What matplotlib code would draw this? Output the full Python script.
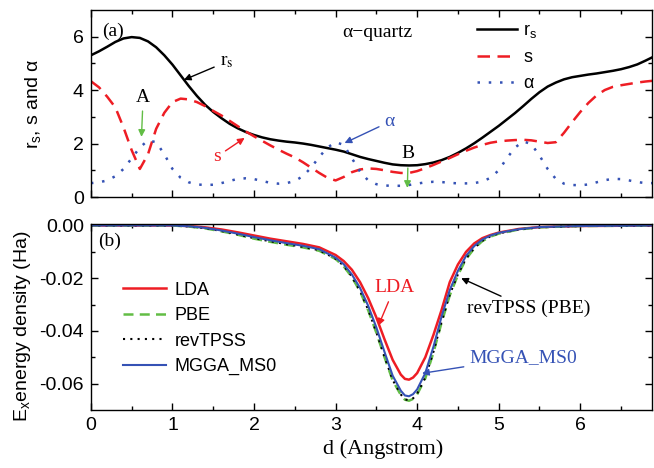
import numpy as np
import matplotlib
matplotlib.use('Agg')
import matplotlib.pyplot as plt

plt.rcParams['font.family'] = ['Liberation Sans', 'DejaVu Sans']
plt.rcParams['mathtext.fontset'] = 'custom'
plt.rcParams['mathtext.rm'] = 'Liberation Sans'
plt.rcParams['mathtext.it'] = 'Liberation Sans'

# ---- panel (a): rs, s and alpha along the path ----
d_top = [0.0, 0.1, 0.2, 0.3, 0.4, 0.5, 0.6, 0.7, 0.8, 0.9,
         1.0, 1.1, 1.2, 1.3, 1.4, 1.5, 1.6, 1.7, 1.8, 1.9,
         2.0, 2.1, 2.2, 2.3, 2.4, 2.5, 2.6, 2.7, 2.8, 2.9,
         3.0, 3.1, 3.2, 3.3, 3.4, 3.5, 3.6, 3.7, 3.8, 3.9,
         4.0, 4.1, 4.2, 4.3, 4.4, 4.5, 4.6, 4.7, 4.8, 4.9,
         5.0, 5.1, 5.2, 5.3, 5.4, 5.5, 5.6, 5.7, 5.8, 5.9,
         6.0, 6.1, 6.2, 6.3, 6.4, 6.5, 6.6, 6.7, 6.8, 6.9]
rs_vals = [5.30, 5.45, 5.62, 5.80, 5.93, 5.98, 5.95, 5.82, 5.60, 5.30,
           4.95, 4.55, 4.15, 3.78, 3.45, 3.18, 2.95, 2.74, 2.57, 2.43,
           2.32, 2.23, 2.16, 2.11, 2.07, 2.04, 2.00, 1.95, 1.89, 1.83,
           1.77, 1.70, 1.60, 1.50, 1.42, 1.35, 1.28, 1.22, 1.19, 1.18,
           1.19, 1.23, 1.29, 1.38, 1.50, 1.65, 1.82, 2.01, 2.22, 2.44,
           2.66, 2.90, 3.14, 3.40, 3.67, 3.92, 4.13, 4.28, 4.40, 4.48,
           4.53, 4.58, 4.62, 4.67, 4.72, 4.78, 4.86, 4.96, 5.10, 5.25]
s_vals = [4.33, 4.10, 3.75, 3.35, 2.60, 1.75, 1.05, 1.60, 2.55, 3.15,
          3.55, 3.68, 3.65, 3.55, 3.40, 3.22, 3.05, 2.85, 2.65, 2.45,
          2.27, 2.10, 1.93, 1.77, 1.62, 1.48, 1.30, 1.10, 0.90, 0.72,
          0.62, 0.75, 0.93, 1.03, 1.07, 1.05, 1.00, 0.94, 0.90, 0.90,
          0.97, 1.08, 1.20, 1.33, 1.46, 1.60, 1.73, 1.85, 1.95, 2.03,
          2.08, 2.11, 2.13, 2.14, 2.12, 2.07, 2.02, 2.05, 2.40, 2.80,
          3.18, 3.52, 3.80, 4.00, 4.12, 4.18, 4.23, 4.28, 4.32, 4.35]
alpha_vals = [0.52, 0.55, 0.62, 0.78, 1.05, 1.45, 1.85, 2.12, 2.05, 1.60,
              1.05, 0.72, 0.55, 0.47, 0.45, 0.46, 0.52, 0.60, 0.68, 0.70,
              0.67, 0.60, 0.53, 0.50, 0.52, 0.60, 0.78, 1.10, 1.50, 1.85,
              2.05, 1.95, 1.45, 0.95, 0.62, 0.48, 0.43, 0.42, 0.42, 0.45,
              0.50, 0.55, 0.57, 0.56, 0.53, 0.51, 0.51, 0.52, 0.58, 0.72,
              1.00, 1.45, 1.85, 2.08, 1.98, 1.55, 1.05, 0.68, 0.50, 0.45,
              0.44, 0.47, 0.55, 0.63, 0.68, 0.67, 0.62, 0.56, 0.52, 0.52]

# ---- panel (b): exchange energy density ----
d_bot = [0.0, 0.5, 1.0, 1.2, 1.4, 1.6, 1.8, 2.0, 2.2, 2.4, 2.6, 2.8,
         3.0, 3.1, 3.2, 3.3, 3.4, 3.5, 3.6, 3.7, 3.8, 3.85, 3.9, 3.95,
         4.0, 4.1, 4.2, 4.3, 4.4, 4.5, 4.6, 4.7, 4.8, 4.9, 5.0,
         5.25, 5.5, 6.0, 6.5, 6.9]
lda = [0.0, 0.0, 0.0, -0.0002, -0.0007, -0.0015, -0.0026, -0.0038, -0.0050, -0.0060, -0.0070, -0.0083,
       -0.0112, -0.0135, -0.0168, -0.0215, -0.0276, -0.0349, -0.0432, -0.0510, -0.0566, -0.0582, -0.0585, -0.0577,
       -0.0560, -0.0500, -0.0415, -0.0320, -0.0215, -0.0148, -0.0100, -0.0068, -0.0048, -0.0036, -0.0027,
       -0.0013, -0.0006, -0.0002, -0.0001, 0.0]
pbe = [0.0, 0.0, 0.0, -0.0004, -0.0011, -0.0022, -0.0035, -0.0050, -0.0062, -0.0073, -0.0083, -0.0096,
       -0.0127, -0.0155, -0.0196, -0.0250, -0.0322, -0.0407, -0.0500, -0.0588, -0.0643, -0.0661, -0.0665, -0.0658,
       -0.0641, -0.0580, -0.0482, -0.0368, -0.0265, -0.0188, -0.0127, -0.0087, -0.0059, -0.0042, -0.0031,
       -0.0015, -0.0007, -0.0002, -0.0001, 0.0]
revtpss = [0.0, 0.0, 0.0, -0.0004, -0.0010, -0.0021, -0.0034, -0.0048, -0.0060, -0.0071, -0.0081, -0.0094,
           -0.0126, -0.0153, -0.0194, -0.0248, -0.0320, -0.0405, -0.0498, -0.0586, -0.0641, -0.0660, -0.0663, -0.0656,
           -0.0638, -0.0577, -0.0479, -0.0365, -0.0262, -0.0185, -0.0125, -0.0085, -0.0058, -0.0041, -0.0030,
           -0.0015, -0.0007, -0.0002, -0.0001, 0.0]
mgga = [0.0, 0.0, 0.0, -0.0003, -0.0009, -0.0019, -0.0031, -0.0044, -0.0056, -0.0067, -0.0077, -0.0090,
        -0.0122, -0.0147, -0.0186, -0.0237, -0.0305, -0.0387, -0.0480, -0.0570, -0.0627, -0.0645, -0.0648, -0.0640,
        -0.0622, -0.0560, -0.0460, -0.0345, -0.0245, -0.0172, -0.0115, -0.0078, -0.0053, -0.0038, -0.0028,
        -0.0014, -0.0006, -0.0002, -0.0001, 0.0]

RED = '#ee1d24'
BLUE = '#3552b5'
GREEN = '#62bd45'
SERIF = ['Liberation Serif', 'DejaVu Serif']

fig = plt.figure(figsize=(6.54, 4.68), dpi=100)
ax1 = fig.add_axes([0.139, 0.579, 0.858, 0.400])
ax2 = fig.add_axes([0.139, 0.124, 0.858, 0.397])

for ax in (ax1, ax2):
    ax.tick_params(which='both', direction='in', top=True, right=True,
                   labelsize=14, pad=5)
    ax.tick_params(which='major', length=5, width=1)
    ax.tick_params(which='minor', length=3, width=1)
    ax.set_xlim(0, 6.88)
    ax.set_xticks(np.arange(0, 7, 1))
    ax.set_xticks(np.arange(0.5, 7, 1), minor=True)
    for sp in ax.spines.values():
        sp.set_linewidth(1.0)

# top panel
ax1.plot(d_top, rs_vals, color='black', lw=1.8, label='r$_\\mathrm{s}$')
ax1.plot(d_top, s_vals, color=RED, lw=1.8, dashes=(5, 3), label='s')
ax1.plot(d_top, alpha_vals, color=BLUE, lw=1.8, dashes=(1, 3.5), label='α')
ax1.set_ylim(0, 7)
ax1.set_yticks([0, 2, 4, 6])
ax1.set_yticks([1, 3, 5], minor=True)
ax1.tick_params(labelbottom=False)
ax1.set_ylabel('r$_\\mathrm{s}$, s and α', fontsize=14)
ax1.yaxis.set_label_coords(-0.085, 0.5)
leg1 = ax1.legend(loc='upper left', bbox_to_anchor=(0.688, 0.935), frameon=False,
                  fontsize=13, handlelength=2.2, handletextpad=0.35,
                  labelspacing=0.5, borderpad=0, borderaxespad=0)

ax1.text(0.27, 6.18, '(a)', family=SERIF, fontsize=14, ha='center', va='center')
ax1.text(3.51, 6.14, 'α−quartz', family=SERIF, fontsize=14, ha='center', va='center')
ax1.annotate('r$_\\mathrm{s}$', xy=(1.14, 4.38), xytext=(1.66, 5.05), fontsize=14,
             family=SERIF, ha='center', va='center', math_fontfamily='stix',
             arrowprops=dict(arrowstyle='-|>', color='black', lw=1, mutation_scale=10,
                             shrinkA=2, shrinkB=0))
ax1.annotate('A', xy=(0.62, 2.25), xytext=(0.64, 3.74), fontsize=14,
             family=SERIF, ha='center', va='center',
             arrowprops=dict(arrowstyle='-|>', color=GREEN, lw=1, mutation_scale=10,
                             shrinkA=2, shrinkB=0))
ax1.annotate('s', xy=(1.885, 2.21), xytext=(1.54, 1.50), fontsize=14, color=RED,
             family=SERIF, ha='center', va='center',
             arrowprops=dict(arrowstyle='-|>', color=RED, lw=1, mutation_scale=10,
                             shrinkA=2, shrinkB=0))
ax1.annotate('α', xy=(3.11, 2.02), xytext=(3.66, 2.81), fontsize=14, color=BLUE,
             family=SERIF, ha='center', va='center',
             arrowprops=dict(arrowstyle='-|>', color=BLUE, lw=1, mutation_scale=10,
                             shrinkA=2, shrinkB=0))
ax1.annotate('B', xy=(3.88, 0.34), xytext=(3.89, 1.61), fontsize=14,
             family=SERIF, ha='center', va='center',
             arrowprops=dict(arrowstyle='-|>', color=GREEN, lw=1, mutation_scale=10,
                             shrinkA=2, shrinkB=0))

# bottom panel
ax2.plot(d_bot, lda, color=RED, lw=1.8, label='LDA')
ax2.plot(d_bot, pbe, color=GREEN, lw=1.8, dashes=(4, 2.5), label='PBE')
ax2.plot(d_bot, revtpss, color='black', lw=1.5, dashes=(1, 2.5), label='revTPSS')
ax2.plot(d_bot, mgga, color=BLUE, lw=1.5, label='MGGA_MS0')
ax2.set_ylim(-0.07, 0.0005)
ax2.set_yticks([0.0, -0.02, -0.04, -0.06])
ax2.set_yticklabels(['0.00', '-0.02', '-0.04', '-0.06'])
ax2.set_yticks([-0.01, -0.03, -0.05], minor=True)
ax2.set_ylabel('E$_\\mathrm{x}$energy density (Ha)', fontsize=14)
ax2.yaxis.set_label_coords(-0.103, 0.45)
ax2.set_xlabel('d (Angstrom)', family=SERIF, fontsize=16)
ax2.xaxis.set_label_coords(0.52, -0.16)
leg2 = ax2.legend(loc='upper left', bbox_to_anchor=(0.057, 0.69), frameon=False,
                  fontsize=13, handlelength=2.4, handletextpad=0.45,
                  labelspacing=0.47, borderpad=0, borderaxespad=0)

ax2.text(0.23, -0.0060, '(b)', family=SERIF, fontsize=14, ha='center', va='center')
ax2.annotate('LDA', xy=(3.525, -0.0380), xytext=(3.72, -0.0237), fontsize=14, color=RED,
             family=SERIF, ha='center', va='center',
             arrowprops=dict(arrowstyle='-|>', color=RED, lw=1, mutation_scale=10,
                             shrinkA=2, shrinkB=0))
ax2.annotate('revTPSS (PBE)', xy=(4.54, -0.0200), xytext=(5.37, -0.0316), fontsize=14,
             family=SERIF, ha='center', va='center',
             arrowprops=dict(arrowstyle='-|>', color='black', lw=1, mutation_scale=10,
                             shrinkA=2, shrinkB=0))
ax2.annotate('MGGA_MS0', xy=(4.06, -0.0561), xytext=(5.30, -0.0501), fontsize=14, color=BLUE,
             family=SERIF, ha='center', va='center',
             arrowprops=dict(arrowstyle='-|>', color=BLUE, lw=1, mutation_scale=10,
                             shrinkA=2, shrinkB=0))

fig.savefig('out.png', dpi=100)
